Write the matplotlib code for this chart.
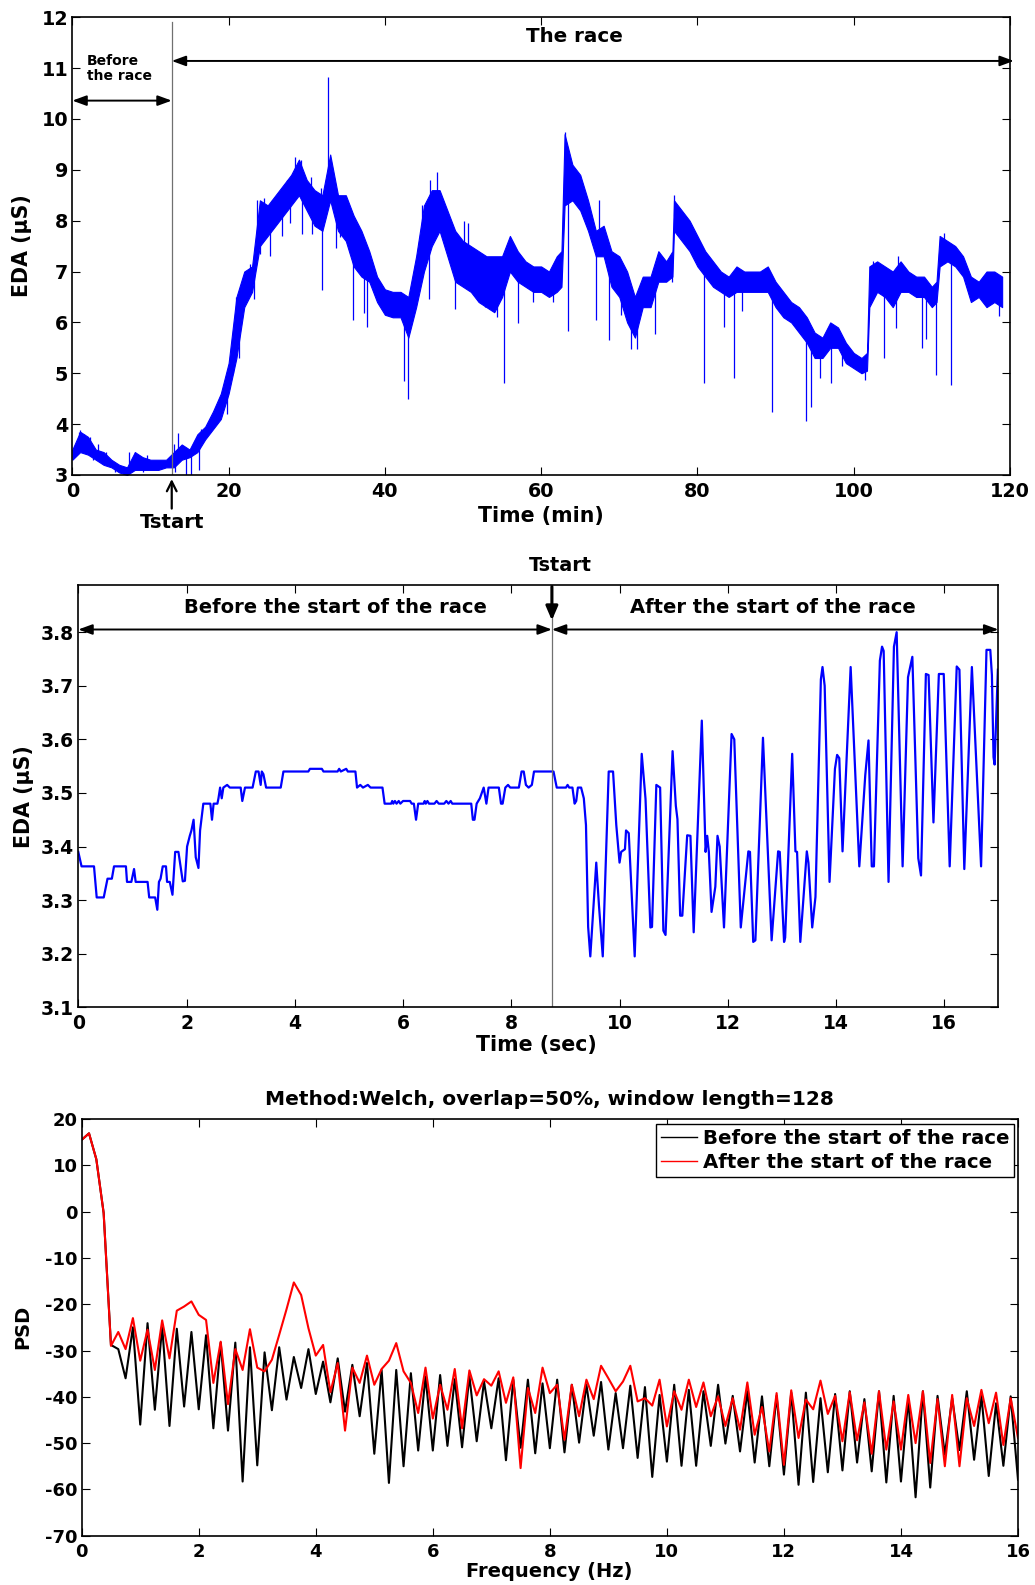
import numpy as np
import matplotlib
matplotlib.use("Agg")
import matplotlib.pyplot as plt

plt.rcParams['font.family'] = ['DejaVu Sans']
plt.rcParams['font.weight'] = 'bold'
plt.rcParams['axes.labelweight'] = 'bold'
plt.rcParams['axes.titleweight'] = 'bold'
plt.rcParams['axes.unicode_minus'] = False

BLUE = '#0000ff'

# ---------------- Panel 1: whole recording (minutes) ----------------
t_min = [0, 1, 2, 3, 4, 5, 6, 7, 8, 9, 10, 11, 12, 13, 14, 15, 16, 17, 18, 19,
         20, 21, 22, 23, 24, 25, 26, 27, 28, 29, 30, 31, 32, 33, 34, 35, 36, 37, 38, 39,
         40, 41, 42, 43, 44, 45, 46, 47, 48, 49, 50, 51, 52, 53, 54, 55, 56, 57, 58, 59,
         60, 61, 62, 62.6, 63, 64, 65, 66, 67, 68, 69, 70, 71, 72, 73, 74, 75, 76, 76.8, 77, 78, 79,
         80, 81, 82, 83, 84, 85, 86, 87, 88, 89, 90, 91, 92, 93, 94, 95, 96, 97, 98, 99,
         100, 101, 101.7, 102, 103, 104, 105, 106, 107, 108, 109, 110, 110.6, 111, 112, 113, 114,
         115, 116, 117, 118, 119]
eda_lo = [3.30, 3.45, 3.40, 3.30, 3.20, 3.15, 3.05, 3.00, 3.10, 3.10, 3.10, 3.10, 3.15, 3.15, 3.30, 3.35, 3.45, 3.70, 3.90, 4.10,
          4.60, 5.30, 6.30, 6.60, 7.50, 7.70, 7.90, 8.10, 8.30, 8.50, 8.20, 7.90, 7.80, 8.40, 7.80, 7.60, 7.10, 6.90, 6.80, 6.40,
          6.15, 6.10, 6.10, 5.70, 6.30, 7.00, 7.50, 7.80, 7.30, 6.80, 6.70, 6.60, 6.40, 6.30, 6.20, 6.50, 7.00, 6.80, 6.70, 6.60,
          6.60, 6.50, 6.60, 6.70, 8.30, 8.40, 8.20, 7.80, 7.30, 7.30, 6.70, 6.50, 6.00, 5.70, 6.30, 6.30, 6.80, 6.80, 6.90, 7.80, 7.60, 7.40,
          7.10, 6.90, 6.70, 6.60, 6.50, 6.60, 6.60, 6.60, 6.60, 6.60, 6.30, 6.10, 6.00, 5.80, 5.60, 5.30, 5.30, 5.50, 5.50, 5.20,
          5.10, 5.00, 5.05, 6.30, 6.60, 6.50, 6.30, 6.60, 6.60, 6.50, 6.50, 6.30, 6.40, 7.10, 7.20, 7.10, 6.90,
          6.40, 6.50, 6.30, 6.40, 6.30]
eda_hi = [3.50, 3.85, 3.75, 3.50, 3.45, 3.30, 3.20, 3.15, 3.45, 3.35, 3.30, 3.30, 3.30, 3.45, 3.60, 3.50, 3.80, 3.95, 4.25, 4.60,
          5.20, 6.50, 7.00, 7.10, 8.40, 8.30, 8.50, 8.70, 8.90, 9.20, 8.80, 8.60, 8.50, 9.30, 8.50, 8.50, 8.10, 7.80, 7.40, 6.90,
          6.65, 6.60, 6.60, 6.50, 7.30, 8.30, 8.60, 8.60, 8.20, 7.80, 7.60, 7.50, 7.40, 7.30, 7.30, 7.30, 7.70, 7.40, 7.20, 7.10,
          7.10, 7.00, 7.30, 7.40, 9.70, 9.10, 8.90, 8.40, 7.80, 7.90, 7.40, 7.30, 7.00, 6.50, 6.90, 6.90, 7.40, 7.20, 7.40, 8.40, 8.20, 8.00,
          7.70, 7.40, 7.20, 7.00, 6.90, 7.10, 7.00, 7.00, 7.00, 7.10, 6.80, 6.60, 6.40, 6.30, 6.10, 5.80, 5.70, 6.00, 5.90, 5.60,
          5.40, 5.30, 5.40, 7.10, 7.20, 7.10, 7.00, 7.20, 7.00, 6.90, 6.90, 6.70, 6.80, 7.70, 7.60, 7.50, 7.30,
          6.90, 6.80, 7.00, 7.00, 6.90]

# isolated artefact peaks and drops (time in min, EDA in uS)
spike_t = [0.8, 1.0, 1.5, 2.2, 3.3, 4.3, 7.3, 8.0, 9.5, 13.0, 13.5, 15.9, 16.5,
           21.0, 22.8, 23.6, 24.5, 25.5, 26.8, 27.5, 28.5, 29.3, 30.5, 31.8, 32.7,
           44.75, 45.8, 46.7, 50.1, 50.7, 63.0, 67.4, 77.0, 102.5, 105.7, 111.5,
           2.6, 5.5, 9.0, 13.2, 14.6, 15.2, 16.2, 19.8, 20.6, 21.3, 23.2, 24.0, 25.3, 26.8,
           27.9, 29.4, 30.7, 31.9, 33.7, 34.3, 35.9, 37.3, 37.7, 42.4, 43.0, 45.7, 49.0,
           52.8, 54.3, 55.2, 57.1, 58.9, 61.5, 63.5, 67.0, 68.7, 70.2, 71.5, 72.3, 74.6,
           76.7, 80.85, 83.45, 84.7, 85.7, 89.6, 93.9, 94.6, 95.7, 97.1, 98.5, 101.4,
           103.9, 105.4, 108.7, 109.25, 110.5, 112.4, 118.6]
spike_v = [3.85, 3.88, 3.80, 3.75, 3.60, 3.45, 3.45, 3.45, 3.40, 3.60, 3.82, 3.75, 3.90,
           6.50, 7.15, 8.40, 8.45, 8.40, 8.65, 8.80, 9.25, 9.20, 8.85, 8.65, 10.82,
           8.30, 8.80, 8.95, 8.00, 7.95, 9.75, 8.40, 8.50, 7.20, 7.30, 7.76,
           3.30, 3.05, 3.05, 3.05, 3.00, 3.00, 3.10, 4.20, 5.00, 5.30, 6.46, 7.34, 7.30, 7.70,
           7.95, 7.74, 7.74, 6.63, 7.47, 7.68, 6.05, 6.19, 5.90, 4.84, 4.50, 6.46, 6.26,
           6.30, 6.10, 4.80, 5.99, 6.40, 6.40, 5.84, 6.05, 5.65, 6.15, 5.48, 5.48, 5.78,
           6.80, 4.80, 5.90, 4.90, 6.22, 4.23, 4.06, 4.33, 4.90, 4.80, 5.14, 4.87,
           5.30, 5.89, 5.50, 5.68, 4.97, 4.77, 6.12]

t_start_min = 12.72

# ---------------- Panel 2: zoom around the start (seconds) ----------------
sec_t = [0.00, 0.06, 0.29, 0.34, 0.47, 0.54, 0.62, 0.66, 0.88, 0.90, 0.98, 1.03, 1.06, 1.28, 1.31, 1.42,
         1.46, 1.49, 1.52, 1.56, 1.62, 1.64, 1.69, 1.74, 1.79, 1.85, 1.93, 1.97, 2.01, 2.06, 2.09, 2.13,
         2.17, 2.22, 2.25, 2.31, 2.44, 2.47, 2.50, 2.57, 2.59, 2.62, 2.65, 2.68, 2.75, 2.80, 3.00, 3.03,
         3.08, 3.22, 3.28, 3.33, 3.37, 3.39, 3.42, 3.47, 3.74, 3.79, 4.25, 4.28, 4.50, 4.53, 4.79, 4.82,
         4.85, 4.95, 4.98, 5.12, 5.15, 5.21, 5.26, 5.35, 5.40, 5.62, 5.66, 5.78, 5.80, 5.82, 5.85, 5.88,
         5.92, 5.95, 6.00, 6.13, 6.16, 6.20, 6.24, 6.28, 6.38, 6.40, 6.42, 6.45, 6.48, 6.58, 6.62, 6.66,
         6.76, 6.80, 6.84, 6.88, 6.91, 7.26, 7.29, 7.32, 7.36, 7.42, 7.49, 7.54, 7.58, 7.77, 7.81, 7.84,
         7.89, 7.94, 7.98, 8.14, 8.19, 8.23, 8.27, 8.32, 8.38, 8.42, 8.78,
         8.84, 9.01, 9.04, 9.07, 9.13, 9.17, 9.20, 9.23, 9.29, 9.34, 9.38, 9.42, 9.46, 9.57, 9.62, 9.69,
         9.80, 9.88, 9.94, 10.00, 10.03, 10.10, 10.12, 10.17, 10.28, 10.41, 10.48, 10.57, 10.60, 10.68,
         10.75, 10.81, 10.85, 10.98, 11.04, 11.07, 11.12, 11.16, 11.25, 11.31, 11.37, 11.52, 11.59, 11.62,
         11.65, 11.70, 11.77, 11.81, 11.85, 11.93, 12.07, 12.12, 12.24, 12.38, 12.41, 12.47, 12.51, 12.65,
         12.81, 12.93, 12.96, 13.04, 13.06, 13.19, 13.25, 13.28, 13.34, 13.46, 13.49, 13.56, 13.62, 13.72,
         13.75, 13.79, 13.88, 13.98, 14.02, 14.06, 14.12, 14.27, 14.43, 14.54, 14.60, 14.66, 14.70, 14.81,
         14.85, 14.88, 14.97, 15.07, 15.12, 15.23, 15.33, 15.41, 15.52, 15.57, 15.66, 15.71, 15.80, 15.90,
         15.99, 16.10, 16.23, 16.28, 16.37, 16.51, 16.68, 16.78, 16.85, 16.88, 16.91, 16.93, 16.99]
sec_eda = [3.390, 3.363, 3.363, 3.305, 3.305, 3.340, 3.340, 3.363, 3.363, 3.334, 3.334, 3.358, 3.334, 3.334, 3.305, 3.305,
           3.282, 3.334, 3.340, 3.363, 3.363, 3.334, 3.334, 3.310, 3.390, 3.390, 3.335, 3.336, 3.400, 3.420, 3.430, 3.450,
           3.380, 3.360, 3.430, 3.480, 3.480, 3.450, 3.480, 3.480, 3.490, 3.510, 3.490, 3.510, 3.515, 3.510, 3.510, 3.485,
           3.510, 3.510, 3.540, 3.540, 3.515, 3.540, 3.535, 3.510, 3.510, 3.540, 3.540, 3.545, 3.545, 3.540, 3.540, 3.545,
           3.540, 3.545, 3.540, 3.540, 3.510, 3.515, 3.510, 3.515, 3.510, 3.510, 3.480, 3.480, 3.485, 3.480, 3.485, 3.480,
           3.485, 3.480, 3.485, 3.485, 3.480, 3.480, 3.450, 3.480, 3.480, 3.485, 3.480, 3.485, 3.480, 3.480, 3.485, 3.480,
           3.480, 3.485, 3.480, 3.485, 3.480, 3.480, 3.450, 3.450, 3.480, 3.490, 3.510, 3.480, 3.510, 3.510, 3.480, 3.480,
           3.510, 3.515, 3.510, 3.510, 3.540, 3.540, 3.515, 3.510, 3.515, 3.540, 3.540,
           3.510, 3.510, 3.515, 3.510, 3.510, 3.480, 3.485, 3.510, 3.510, 3.490, 3.440, 3.250, 3.195, 3.370, 3.290, 3.195,
           3.540, 3.540, 3.440, 3.370, 3.390, 3.395, 3.430, 3.425, 3.195, 3.573, 3.489, 3.249, 3.250, 3.515,
           3.510, 3.243, 3.235, 3.578, 3.476, 3.451, 3.271, 3.271, 3.421, 3.420, 3.240, 3.635, 3.390, 3.420,
           3.390, 3.278, 3.325, 3.420, 3.400, 3.249, 3.610, 3.600, 3.249, 3.391, 3.390, 3.222, 3.225, 3.603,
           3.225, 3.391, 3.390, 3.222, 3.230, 3.573, 3.391, 3.390, 3.222, 3.391, 3.370, 3.249, 3.306, 3.712,
           3.735, 3.700, 3.334, 3.545, 3.571, 3.565, 3.391, 3.735, 3.363, 3.533, 3.598, 3.363, 3.363, 3.747,
           3.773, 3.765, 3.334, 3.773, 3.800, 3.363, 3.716, 3.754, 3.378, 3.346, 3.722, 3.720, 3.445, 3.722,
           3.722, 3.363, 3.736, 3.730, 3.358, 3.735, 3.363, 3.767, 3.767, 3.720, 3.567, 3.553, 3.730]

t_start_sec = 8.75

# ---------------- Panel 3: Welch PSD (dB) ----------------
df = 0.125
psd_before = [15.5, 16.9, 11.3, -0.3, -28.8, -29.7, -36.0, -25.0, -46.0, -24.1,
              -42.8, -24.8, -46.3, -25.3, -42.1, -26.0, -42.7, -26.7, -46.8, -28.3,
              -47.3, -28.3, -58.3, -29.3, -54.8, -30.4, -42.9, -29.3, -40.6, -31.4,
              -38.1, -29.7, -39.4, -32.4, -41.2, -31.7, -43.2, -33.1, -44.2, -32.7,
              -52.3, -34.2, -58.6, -34.2, -55.0, -34.9, -51.6, -35.6, -51.6, -35.3,
              -50.6, -36.2, -50.9, -35.5, -49.6, -36.7, -46.8, -36.0, -53.7, -36.3,
              -51.0, -36.3, -52.2, -37.1, -51.1, -36.3, -52.0, -37.4, -49.9, -37.4,
              -48.4, -36.8, -51.4, -39.2, -51.1, -37.6, -53.2, -37.9, -57.3, -39.6,
              -54.0, -37.4, -54.9, -38.5, -54.9, -38.8, -50.6, -37.4, -50.1, -39.8,
              -51.8, -38.8, -54.2, -39.9, -55.0, -39.8, -56.8, -39.1, -59.0, -39.1,
              -58.4, -40.3, -56.3, -39.4, -55.9, -38.8, -54.2, -40.5, -56.1, -38.8,
              -58.5, -39.8, -58.3, -40.5, -61.7, -38.8, -59.6, -39.8, -52.5, -40.3,
              -51.5, -38.8, -53.6, -39.8, -57.1, -41.4, -54.9, -39.9, -57.9]
psd_after = [15.5, 16.9, 11.3, -0.3, -29.0, -26.0, -29.7, -23.0, -32.2, -25.5,
             -34.2, -23.5, -31.7, -21.4, -20.5, -19.4, -22.3, -23.4, -37.0, -28.1,
             -41.6, -29.7, -34.2, -25.4, -33.7, -34.5, -32.0, -26.6, -21.1, -15.3,
             -18.0, -25.2, -31.1, -28.8, -39.0, -32.7, -47.3, -33.7, -37.0, -31.1,
             -37.4, -34.0, -32.2, -28.4, -34.5, -37.0, -43.5, -33.7, -44.7, -37.4,
             -42.8, -34.0, -46.8, -34.3, -39.7, -36.2, -37.6, -34.5, -41.3, -35.8,
             -55.4, -38.1, -43.5, -33.7, -39.2, -37.4, -49.3, -37.4, -44.2, -36.3,
             -40.5, -33.3, -36.0, -38.8, -36.7, -33.3, -41.0, -40.3, -41.9, -36.3,
             -46.4, -38.8, -42.8, -36.3, -42.2, -36.9, -44.2, -39.9, -46.3, -40.3,
             -47.1, -36.9, -48.2, -42.2, -51.8, -39.2, -54.7, -38.6, -48.9, -40.6,
             -42.7, -36.5, -43.7, -39.8, -49.6, -39.0, -49.4, -41.2, -52.3, -38.8,
             -51.4, -41.0, -51.4, -39.6, -50.0, -38.8, -54.3, -40.5, -55.0, -39.6,
             -55.0, -40.3, -46.3, -38.5, -45.7, -39.1, -50.4, -40.3, -48.9]
freq = np.arange(len(psd_before)) * df


def matlab_axes(ax, labelsize):
    ax.tick_params(direction='in', top=True, right=True, length=6, width=0.8,
                   labelsize=labelsize)
    ax.tick_params(axis='y', pad=3)
    ax.tick_params(axis='x', pad=5)
    for s in ax.spines.values():
        s.set_linewidth(1.2)


def double_arrow(ax, x0, x1, y):
    ax.annotate('', xy=(x1, y), xytext=(x0, y), annotation_clip=False,
                arrowprops=dict(arrowstyle='<|-|>,head_length=0.6,head_width=0.22',
                                color='k', lw=1.4, mutation_scale=14,
                                shrinkA=0, shrinkB=0))


fig = plt.figure(figsize=(10.35, 15.85), dpi=100)

# ---- top panel ----
ax1 = fig.add_axes([0.0699, 0.70032, 0.9059, 0.28883])
t_arr = np.array(t_min)
lo_arr = np.array(eda_lo)
hi_arr = np.array(eda_hi)
ax1.fill_between(t_arr, lo_arr, hi_arr, color=BLUE, lw=0.8)
mid = (lo_arr + hi_arr) / 2
ax1.vlines(spike_t, np.interp(spike_t, t_arr, mid), spike_v, color=BLUE, lw=0.9)
ax1.plot([t_start_min, t_start_min], [3, 11.9], color='#707070', lw=0.9)
ax1.set_xlim(0, 120)
ax1.set_ylim(3, 12)
ax1.set_xticks(range(0, 121, 20))
ax1.set_yticks(range(3, 13))
matlab_axes(ax1, 13.8)
ax1.set_xlabel('Time (min)', fontsize=14.8)
ax1.set_ylabel('EDA (\u03bcS)', fontsize=14.8)
ax1.xaxis.set_label_coords(0.5, -0.068)
ax1.yaxis.set_label_coords(-0.043, 0.5)
double_arrow(ax1, 0, t_start_min, 10.36)
double_arrow(ax1, t_start_min, 120.5, 11.14)
ax1.text(1.9, 11.0, 'Before\nthe race', fontsize=10, ha='left', va='center', linespacing=1.1)
ax1.text(64.3, 11.63, 'The race', fontsize=14.3, ha='center', va='center')
ax1.annotate('', xy=(t_start_min, 2.92), xytext=(t_start_min, 2.34), annotation_clip=False,
             arrowprops=dict(arrowstyle='->,head_length=0.5,head_width=0.25', color='k', lw=1.6,
                             mutation_scale=14, shrinkA=0, shrinkB=0))
ax1.text(t_start_min, 2.06, 'Tstart', fontsize=14.2, ha='center', va='center', clip_on=False)

# ---- middle panel ----
ax2 = fig.add_axes([0.07565, 0.36448, 0.88899, 0.26642])
ax2.plot(sec_t, sec_eda, color=BLUE, lw=1.6)
ax2.axvline(t_start_sec, color='#707070', lw=0.9)
ax2.set_xlim(0, 17)
ax2.set_ylim(3.1, 3.888)
ax2.set_xticks(range(0, 17, 2))
ax2.set_yticks([3.1, 3.2, 3.3, 3.4, 3.5, 3.6, 3.7, 3.8])
ax2.set_yticklabels(['3.1', '3.2', '3.3', '3.4', '3.5', '3.6', '3.7', '3.8'])
matlab_axes(ax2, 13.5)
ax2.set_xlabel('Time (sec)', fontsize=14.8)
ax2.set_ylabel('EDA (\u03bcS)', fontsize=14.8)
ax2.xaxis.set_label_coords(0.4975, -0.066)
ax2.yaxis.set_label_coords(-0.0477, 0.5)
double_arrow(ax2, 0, t_start_sec, 3.805)
double_arrow(ax2, t_start_sec, 17, 3.805)
ax2.text(4.76, 3.846, 'Before the start of the race', fontsize=14, ha='center', va='center')
ax2.text(12.84, 3.846, 'After the start of the race', fontsize=14, ha='center', va='center')
ax2.annotate('', xy=(t_start_sec, 3.822), xytext=(t_start_sec, 3.885), annotation_clip=False,
             arrowprops=dict(arrowstyle='-|>,head_length=0.7,head_width=0.3', color='k', lw=2.2,
                             mutation_scale=12, shrinkA=0, shrinkB=0))
ax2.annotate('Tstart', xy=(t_start_sec, 3.924), xytext=(6, 0), textcoords='offset points',
             fontsize=13.8, ha='center', va='center', annotation_clip=False)

# ---- bottom panel ----
ax3 = fig.add_axes([0.07894, 0.0311, 0.90463, 0.26291])
ax3.plot(freq, psd_before, color='k', lw=1.5, label='Before the start of the race')
ax3.plot(freq, psd_after, color='#ff0000', lw=1.5, label='After the start of the race')
ax3.set_xlim(0, 16)
ax3.set_ylim(-70, 20)
ax3.set_xticks(range(0, 17, 2))
ax3.set_yticks(range(-70, 21, 10))
matlab_axes(ax3, 13)
ax3.set_xlabel('Frequency (Hz)', fontsize=14)
ax3.set_ylabel('PSD', fontsize=14)
ax3.xaxis.set_label_coords(0.499, -0.063)
ax3.yaxis.set_label_coords(-0.053, 0.5)
ax3.set_title('Method:Welch, overlap=50%, window length=128', fontsize=14.5, pad=10)
leg = ax3.legend(loc='upper right', bbox_to_anchor=(0.996, 0.987), fontsize=14.2,
                 frameon=True, fancybox=False, edgecolor='k', framealpha=1,
                 borderaxespad=0, borderpad=0.25, handlelength=1.8, handletextpad=0.3,
                 labelspacing=0.25)
leg.get_frame().set_linewidth(1.0)
for line in leg.get_lines():
    line.set_linewidth(1.0)

fig.savefig('out.png', dpi=100)
